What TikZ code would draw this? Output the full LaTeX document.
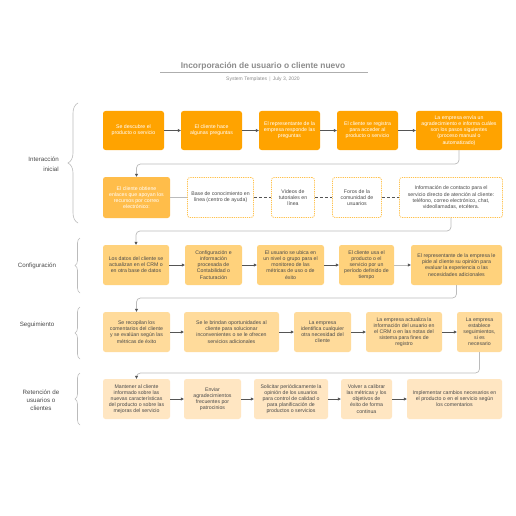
\documentclass[tikz,border=0pt]{standalone}
\usepackage{fontspec}
\setmainfont{Liberation Sans}
\usetikzlibrary{arrows.meta,decorations.pathreplacing}
\definecolor{cA}{HTML}{FFA300}
\definecolor{cB}{HTML}{FFBD4A}
\definecolor{cC}{HTML}{FFD27C}
\definecolor{cD}{HTML}{FFDB9B}
\definecolor{cE}{HTML}{FFE6C2}
\definecolor{dashc}{HTML}{FFC24D}
\definecolor{txtc}{HTML}{4A4A4A}
\definecolor{arrc}{HTML}{555555}
\definecolor{linkc}{HTML}{BBBBBB}
\definecolor{titlec}{HTML}{8C8C8C}
\tikzset{
  box/.style={rectangle, rounded corners=2.5pt, inner sep=1pt, align=center,
    font=\fontsize{5.2}{6.1}\selectfont, text=txtc},
  rowA/.style={box, fill=cA, text=white},
  rowB/.style={box, fill=cB, text=white},
  dbox/.style={box, fill=white, draw=dashc, line width=0.8pt, dash pattern=on 1.2pt off 1pt},
  rowC/.style={box, fill=cC},
  rowD/.style={box, fill=cD},
  rowE/.style={box, fill=cE},
  arr/.style={draw=arrc, line width=0.7pt, -{Triangle[length=3pt,width=3pt]}},
  lightarr/.style={draw=linkc, line width=0.7pt, -{Triangle[length=3pt,width=3pt,color=arrc]}},
  rowlink/.style={draw=linkc, line width=0.7pt, rounded corners=4pt, -{Triangle[length=3pt,width=3pt,color=arrc]}},
  dlink/.style={draw=arrc, line width=0.7pt, dash pattern=on 3pt off 2pt},
  slink/.style={draw=linkc, line width=0.7pt},
  brc/.style={draw=linkc, line width=0.6pt, decorate},
  lbl/.style={font=\fontsize{6.2}{8}\selectfont, text=txtc, align=center, inner sep=0pt}
}
\begin{document}
\begin{tikzpicture}[x=1pt,y=-1pt]
\useasboundingbox (0,0) rectangle (516,516);
\fill[white] (0,0) rectangle (516,516);

% title
\node[font=\bfseries\fontsize{8.4}{10}\selectfont, text=titlec] (title) at (263,66) {Incorporación de usuario o cliente nuevo};
\coordinate (ulA) at (160,72);
\coordinate (ulB) at (368,72);
\draw[titlec!70, line width=0.6pt] (ulA) -- (ulB);
\node[font=\fontsize{5}{6}\selectfont, text=titlec] (sub) at (263,79) {System Templates \,\textcolor{titlec!70}{|}\, July 3, 2020};

% row 1
\node[rowA, minimum width=61pt, minimum height=39pt] (b1) at (133.5,130.5) {Se descubre el\\producto o servicio};
\node[rowA, minimum width=61pt, minimum height=39pt] (b2) at (211.5,130.5) {El cliente hace\\algunas preguntas};
\node[rowA, minimum width=61pt, minimum height=39pt] (b3) at (289.5,130.5) {El representante de la\\empresa responde las\\preguntas};
\node[rowA, minimum width=61pt, minimum height=39pt] (b4) at (367.5,130.5) {El cliente se registra\\para acceder al\\producto o servicio};
\node[rowA, minimum width=86pt, minimum height=39pt] (b5) at (459,130.5) {La empresa envía un\\agradecimiento e informa cuáles\\son los pasos siguientes\\(proceso manual o\\automatizado)};

% row 2
\node[rowB, minimum width=67pt, minimum height=41pt] (b6) at (136.5,197.5) {El cliente obtiene\\enlaces que apoyan los\\recursos por correo\\electrónico:};
\node[dbox, minimum width=66pt, minimum height=40pt] (b7) at (220.5,197.5) {Base de conocimiento en\\línea (centro de ayuda)};
\node[dbox, minimum width=43pt, minimum height=40pt] (b8) at (293,197.5) {Videos de\\tutoriales en\\línea};
\node[dbox, minimum width=49pt, minimum height=40pt] (b9) at (357,197.5) {Foros de la\\comunidad de\\usuarios};
\node[dbox, minimum width=103pt, minimum height=40pt] (b10) at (451,197.5) {Información de contacto para el\\servicio directo de atención al cliente:\\teléfono, correo electrónico, chat,\\videollamadas, etcétera.};

% row 3
\node[rowC, minimum width=66pt, minimum height=40pt] (b11) at (136,265) {Los datos del cliente se\\actualizan en el CRM o\\en otra base de datos};
\node[rowC, minimum width=57pt, minimum height=40pt] (b12) at (213.5,265) {Configuración e\\información\\procesada de\\Contabilidad o\\Facturación};
\node[rowC, minimum width=67pt, minimum height=40pt] (b13) at (290.5,265) {El usuario se ubica en\\un nivel o grupo para el\\monitoreo de las\\métricas de uso o de\\éxito};
\node[rowC, minimum width=55pt, minimum height=40pt] (b14) at (366.5,265) {El cliente usa el\\producto o el\\servicio por un\\período definido de\\tiempo};
\node[rowC, minimum width=91pt, minimum height=40pt] (b15) at (456.5,265) {El representante de la empresa le\\pide al cliente su opinión para\\evaluar la experiencia o las\\necesidades adicionales};

% row 4
\node[rowD, minimum width=67pt, minimum height=40pt] (b16) at (136.5,332) {Se recopilan los\\comentarios del cliente\\y se evalúan según las\\métricas de éxito};
\node[rowD, minimum width=95pt, minimum height=40pt] (b17) at (231.5,332) {Se le brindan oportunidades al\\cliente para solucionar\\inconvenientes o se le ofrecen\\servicios adicionales};
\node[rowD, minimum width=57pt, minimum height=40pt] (b18) at (322.5,332) {La empresa\\identifica cualquier\\otra necesidad del\\cliente};
\node[rowD, minimum width=76pt, minimum height=40pt] (b19) at (404,332) {La empresa actualiza la\\información del usuario en\\el CRM o en las notas del\\sistema para fines de\\registro};
\node[rowD, minimum width=45pt, minimum height=40pt] (b20) at (479.5,332) {La empresa\\establece\\seguimientos,\\si es\\necesario};

% row 5
\node[rowE, minimum width=67pt, minimum height=40pt] (b21) at (136.5,399) {Mantener al cliente\\informado sobre las\\nuevas características\\del producto o sobre las\\mejoras del servicio};
\node[rowE, minimum width=57pt, minimum height=40pt] (b22) at (212.5,399) {Enviar\\agradecimientos\\frecuentes por\\patrocinios};
\node[rowE, minimum width=74pt, minimum height=40pt] (b23) at (291,399) {Solicitar periódicamente la\\opinión de los usuarios\\para control de calidad o\\para planificación de\\productos o servicios};
\node[rowE, minimum width=51pt, minimum height=40pt] (b24) at (366.5,399) {Volver a calibrar\\las métricas y los\\objetivos de\\éxito de forma\\continua};
\node[rowE, minimum width=95pt, minimum height=40pt] (b25) at (454.5,399) {Implementar cambios necesarios en\\el producto o en el servicio según\\los comentarios};

% arrows within rows
\draw[arr] (b1) -- (b2);
\draw[arr] (b2) -- (b3);
\draw[arr] (b3) -- (b4);
\draw[arr] (b4) -- (b5);
\draw[slink] (b6) -- (b7);
\draw[dlink] (b7) -- (b8);
\draw[dlink] (b8) -- (b9);
\draw[dlink] (b9) -- (b10);
\draw[arr] (b11) -- (b12);
\draw[arr] (b12) -- (b13);
\draw[arr] (b13) -- (b14);
\draw[lightarr] (b14) -- (b15);
\draw[arr] (b16) -- (b17);
\draw[arr] (b17) -- (b18);
\draw[arr] (b18) -- (b19);
\draw[arr] (b19) -- (b20);
\draw[arr] (b21) -- (b22);
\draw[arr] (b22) -- (b23);
\draw[arr] (b23) -- (b24);
\draw[arr] (b24) -- (b25);

% links between rows
\coordinate (yA) at (0,164);
\coordinate (yB) at (0,231);
\coordinate (yC) at (0,298);
\coordinate (yD) at (0,373);
\draw[rowlink] (b5.south) -- (b5.south |- yA) -- (b6.north |- yA) -- (b6.north);
\draw[rowlink] (b10.south) -- (b10.south |- yB) -- (b11.north |- yB) -- (b11.north);
\draw[rowlink] (b15.south) -- (b15.south |- yC) -- (b16.north |- yC) -- (b16.north);
\draw[rowlink] (b20.south) -- (b20.south |- yD) -- (b21.north |- yD) -- (b21.north);

% braces
\coordinate (brA1) at (78,223);
\coordinate (brA2) at (78,103);
\coordinate (brB1) at (80,293);
\coordinate (brB2) at (80,238);
\coordinate (brC1) at (80,359);
\coordinate (brC2) at (80,307);
\coordinate (brD1) at (80,425);
\coordinate (brD2) at (80,373);
\draw[brc, decoration={brace, amplitude=10pt}] (brA1) -- (brA2);
\draw[brc, decoration={brace, amplitude=5pt}] (brB1) -- (brB2);
\draw[brc, decoration={brace, amplitude=5pt}] (brC1) -- (brC2);
\draw[brc, decoration={brace, amplitude=5pt}] (brD1) -- (brD2);

% section labels
\node[lbl, align=right, anchor=east, font=\fontsize{6.2}{10.5}\selectfont] (l1) at (59,164) {Interacción\\inicial};
\node[lbl] (l2) at (37,266) {Configuración};
\node[lbl] (l3) at (37,325) {Seguimiento};
\node[lbl] (l4) at (41,400) {Retención de\\usuarios o\\clientes};
\end{tikzpicture}
\end{document}
